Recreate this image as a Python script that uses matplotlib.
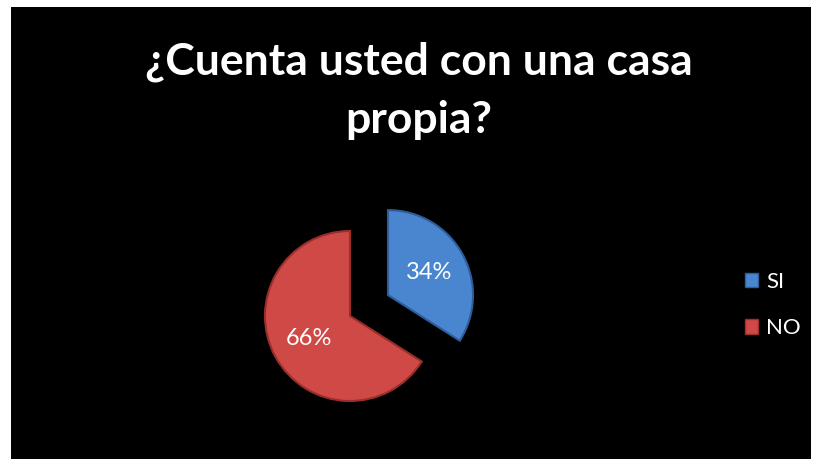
import matplotlib.pyplot as plt
from matplotlib.patches import Rectangle, Patch

title_lines = ["¿Cuenta usted con una casa", "propia?"]
labels = ["SI", "NO"]
values = [34, 66]
colors = ["#4A86CF", "#CF4A46"]
edges = ["#2E5E9A", "#9A2E2B"]

W, H = 813, 459
R = 85
fig = plt.figure(figsize=(W / 100, H / 100), dpi=100)
fig.patch.set_facecolor("white")

# black panel, drawn in pixel coordinates
ax = fig.add_axes([0, 0, 1, 1])
ax.add_patch(Rectangle((11, 0), 800, H - 7, facecolor="black", edgecolor="none", zorder=0))

# explode is in data units, not radius fractions
wedges, texts, autotexts = ax.pie(
    values, colors=colors, startangle=90, counterclock=False,
    explode=[0.51 * R, 0], radius=R, center=(350, H - 316),
    autopct="%1.0f%%", pctdistance=0.55,
    textprops={"color": "white", "fontsize": 17, "family": "Lato"},
    wedgeprops={"linewidth": 1.5},
)
for w, ec in zip(wedges, edges):
    w.set_edgecolor(ec)
    w.set_zorder(2)
for t in autotexts:
    t.set_zorder(3)

# pie() resets the limits, so set them afterwards
ax.set_xlim(0, W)
ax.set_ylim(0, H)
ax.set_aspect("equal")
ax.axis("off")

for line, base in zip(title_lines, [75, 133]):
    ax.text(419, H - base, line, ha="center", va="baseline", color="white",
            fontsize=32, fontweight="bold", family="Lato")

handles = [Patch(facecolor=c, edgecolor=e, label=l) for c, e, l in zip(colors, edges, labels)]
leg = fig.legend(handles=handles, loc="center left", bbox_to_anchor=(725 / W, 1 - 305 / H),
                 frameon=False, labelcolor="white", prop={"family": "Lato", "size": 16},
                 handlelength=0.6, handleheight=0.6, handletextpad=0.35, labelspacing=1.2)

fig.savefig("out.png", dpi=100, facecolor=fig.get_facecolor())
